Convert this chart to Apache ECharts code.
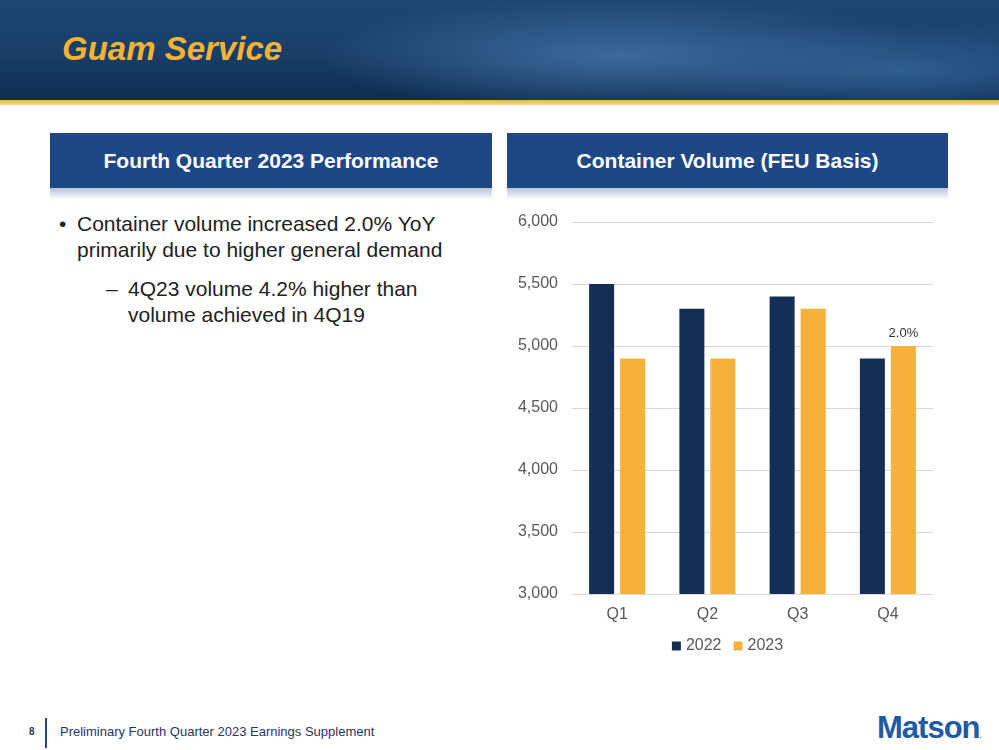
<!DOCTYPE html>
<html>
<head>
<meta charset="utf-8">
<script src="https://cdn.jsdelivr.net/npm/echarts@6/dist/echarts.min.js"></script>
<style>
  html, body { margin: 0; padding: 0; width: 999px; height: 750px; background: #fff; overflow: hidden;
    font-family: "Liberation Sans", Arial, sans-serif; }
  #banner { position: absolute; left: 0; top: 0; width: 999px; height: 100px;
    background: radial-gradient(ellipse 300px 60px at 620px 55px, #3d6a9a 0%, rgba(40,80,130,0) 100%),
                radial-gradient(ellipse 250px 50px at 900px 70px, #2f5e91 0%, rgba(40,80,130,0) 100%),
                linear-gradient(to bottom, #1d4670 0%, #1a406a 50%, #0f2c52 100%); }
  #gold { position: absolute; left: 0; top: 100px; width: 999px; height: 5px;
    background: linear-gradient(to bottom, #e6b545, #f6d98a); }
  #title { position: absolute; left: 62px; top: 30px; font-size: 33px; font-weight: bold; font-style: italic;
    color: #f5b335; }
  .box { position: absolute; top: 133px; height: 55px; background: #1f4788; color: #fff;
    font-weight: bold; font-size: 21px; text-align: center; line-height: 55px; }
  .shade { position: absolute; top: 188px; height: 12px;
    background: linear-gradient(to bottom, #b8c3d6, #ffffff); }
  #bul { position: absolute; left: 0; top: 211px; font-size: 21px; color: #222; line-height: 26px; }
  #bul div { position: relative; white-space: nowrap; }
  #bul span.m { position: absolute; }
  #chart { position: absolute; left: 507px; top: 200px; width: 441px; height: 470px; }
  #foot8 { position: absolute; left: 29px; top: 726px; font-size: 10px; font-weight: bold; color: #1f3864; }
  #footline { position: absolute; left: 45px; top: 718px; width: 2px; height: 30px; background: #1f4788; }
  #foottxt { position: absolute; left: 60px; top: 724px; font-size: 13px; color: #1f3864; }
  #logo { position: absolute; left: 877px; top: 710px; font-size: 31px; font-weight: bold; color: #1f5aa6;
    letter-spacing: -1px; }
</style>
</head>
<body>
<div id="banner"></div>
<div id="gold"></div>
<div id="title">Guam Service</div>

<div class="box" style="left:50px;width:442px;">Fourth Quarter 2023 Performance</div>
<div class="shade" style="left:50px;width:442px;"></div>
<div class="box" style="left:507px;width:441px;">Container Volume (FEU Basis)</div>
<div class="shade" style="left:507px;width:441px;"></div>

<div id="bul">
  <div style="padding-left:77px;"><span class="m" style="left:59px;">•</span>Container volume increased 2.0% YoY</div>
  <div style="padding-left:77px;">primarily due to higher general demand</div>
  <div style="padding-left:128px;margin-top:13px;"><span class="m" style="left:106px;">–</span>4Q23 volume 4.2% higher than</div>
  <div style="padding-left:128px;">volume achieved in 4Q19</div>
</div>

<div id="chart"></div>

<div id="foot8">8</div>
<div id="footline"></div>
<div id="foottxt">Preliminary Fourth Quarter 2023 Earnings Supplement</div>
<div id="logo">Matson<span style="font-size:8px;">.</span></div>

<script>
var quarters = ['Q1', 'Q2', 'Q3', 'Q4'];
var vol2022 = [5500, 5300, 5400, 4900];
var vol2023 = [4900, 4900, 5300, 5000];
var labels2023 = ['', '', '', '2.0%'];
var yTicks = { min: 3000, max: 6000, interval: 500 };

var chart = echarts.init(document.getElementById('chart'));
chart.setOption({
  animation: false,
  textStyle: { fontFamily: 'Liberation Sans, Arial, sans-serif' },
  grid: { left: 65, right: 15, top: 22, bottom: 76 },
  legend: {
    bottom: 11, left: 'center',
    itemWidth: 9, itemHeight: 9, itemGap: 12,
    icon: 'rect',
    textStyle: { color: '#595959', fontSize: 16 },
    data: ['2022', '2023']
  },
  xAxis: {
    type: 'category', data: quarters,
    axisTick: { show: false },
    axisLine: { lineStyle: { color: '#d9d9d9' } },
    axisLabel: { color: '#595959', fontSize: 16, margin: 13 }
  },
  yAxis: {
    type: 'value', min: yTicks.min, max: yTicks.max, interval: yTicks.interval,
    axisLabel: {
      color: '#595959', fontSize: 16, margin: 14,
      formatter: function (v) { return v.toLocaleString('en-US'); }
    },
    splitLine: { lineStyle: { color: '#d9d9d9' } }
  },
  series: [
    {
      name: '2022', type: 'bar', data: vol2022,
      barWidth: 25, barGap: '24%',
      itemStyle: { color: '#142f56' }
    },
    {
      name: '2023', type: 'bar', data: vol2023,
      barWidth: 25,
      itemStyle: { color: '#f6b13d' },
      label: {
        show: true, position: 'top', color: '#333', fontSize: 13, distance: 6,
        formatter: function (p) { return labels2023[p.dataIndex]; }
      }
    }
  ]
});
</script>
</body>
</html>
